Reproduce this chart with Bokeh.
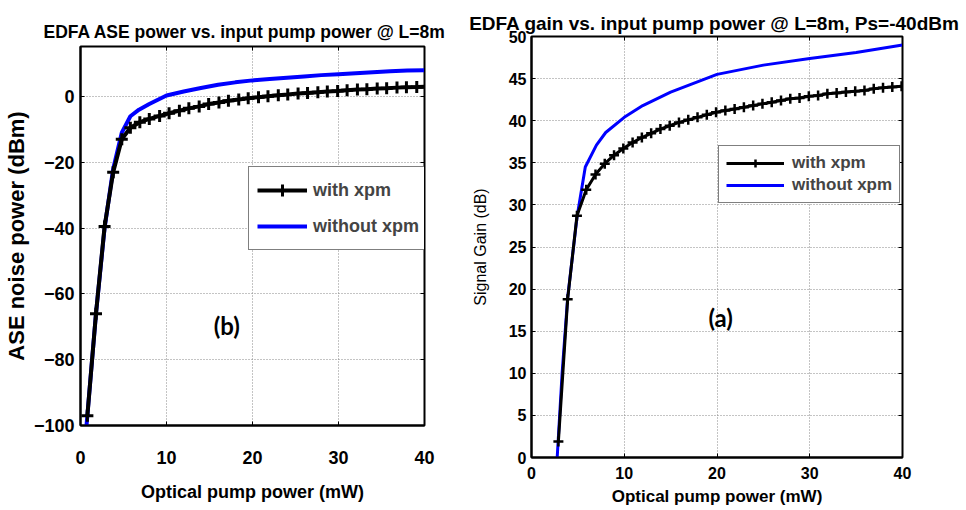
from bokeh.plotting import figure
from bokeh.layouts import row, column
from bokeh.models import (Legend, LegendItem, LinearAxis, Label, FixedTicker,
                          CustomJSTickFormatter)
from bokeh.embed import file_html
from bokeh.resources import INLINE

# ---------------- data: (b) ASE power ----------------
ase_x_xpm = [0.8, 1.8, 2.8, 3.8, 4.8, 5.8, 6.9, 8.0, 9.2, 10.3, 11.5, 12.6, 13.8,
             14.9, 16.1, 17.2, 18.4, 19.5, 20.7, 21.8, 23.0, 24.1, 25.3, 26.4,
             27.6, 28.7, 29.9, 31.0, 32.2, 33.3, 34.5, 35.6, 36.8, 37.9, 39.1, 40.2]
ase_y_xpm = [-97, -66, -39.5, -23, -13, -9.5, -7.8, -6.8, -5.9, -5.1, -4.3, -3.6, -3.0,
             -2.3, -1.8, -1.3, -0.9, -0.5, -0.2, 0.1, 0.4, 0.6, 0.9, 1.1,
             1.3, 1.5, 1.7, 1.9, 2.1, 2.2, 2.4, 2.5, 2.7, 2.8, 2.9, 3.0]
ase_x_noxpm = [0.7, 1.8, 2.8, 3.8, 4.8, 5.8, 6.8, 8, 10, 12, 14, 16, 18, 20, 22, 24,
               26, 28, 30, 32, 34, 36, 38, 40]
ase_y_noxpm = [-100, -66, -40, -22, -11, -6, -4, -2.3, 0.3, 1.5, 2.6, 3.6, 4.3, 4.9,
               5.3, 5.7, 6.1, 6.5, 6.8, 7.1, 7.4, 7.7, 7.9, 8.0]

# ---------------- data: (a) signal gain ----------------
gain_x_xpm = [2.9, 3.9, 4.9, 5.9, 6.9, 7.9, 8.9, 9.9, 10.9, 11.9, 12.9, 13.9, 14.9,
              15.9, 16.9, 17.9, 18.9, 19.9, 20.9, 21.9, 22.9, 23.9, 24.9, 25.9,
              26.9, 27.9, 28.9, 29.9, 30.9, 31.9, 32.9, 33.9, 34.9, 35.9, 36.9,
              37.9, 38.9, 39.9]
gain_y_xpm = [1.9, 18.8, 28.7, 31.8, 33.6, 34.9, 35.9, 36.7, 37.4, 38.0, 38.5, 39.0, 39.4,
              39.8, 40.1, 40.4, 40.7, 41.0, 41.2, 41.4, 41.6, 41.8, 42.0, 42.2,
              42.4, 42.6, 42.7, 42.9, 43.0, 43.2, 43.3, 43.4, 43.5, 43.6, 43.8,
              43.9, 44.0, 44.1]
gain_x_noxpm = [2.77, 3.3, 3.9, 4.9, 5.8, 7, 8, 10, 12, 15, 20, 25, 30, 35, 40]
gain_y_noxpm = [0, 10, 19, 28.5, 34.5, 37.1, 38.6, 40.4, 41.8, 43.4, 45.5, 46.6, 47.4,
                48.1, 49.0]

x_ticks = [0, 10, 20, 30, 40]
ase_ticks = [-100, -80, -60, -40, -20, 0]
gain_ticks = [0, 5, 10, 15, 20, 25, 30, 35, 40, 45, 50]

SANS = "Liberation Sans"
BLUE = "#0000ff"


def style(p, xt, yt, tick_size, xstand, ystand):
    p.outline_line_color = "black"
    p.outline_line_width = 2
    p.background_fill_color = "white"
    p.border_fill_color = "white"
    xa = p.xaxis[0]
    ya = p.yaxis[0]
    xa.ticker = FixedTicker(ticks=xt)
    ya.ticker = FixedTicker(ticks=yt)
    xa.major_label_standoff = xstand
    ya.major_label_standoff = ystand
    for ax in (xa, ya):
        ax.major_tick_in = 4
        ax.major_tick_out = 0
        ax.minor_tick_line_color = None
        ax.axis_line_color = "black"
        ax.axis_line_width = 2
        ax.major_label_text_font = SANS
        ax.major_label_text_font_style = "bold"
        ax.major_label_text_font_size = tick_size
        ax.major_label_text_color = "black"
        ax.axis_label_text_color = "black"
        ax.axis_label_text_font = SANS
    p.grid.grid_line_color = "#888888"
    p.grid.grid_line_dash = "1 2"
    p.grid.grid_line_width = 1
    # MATLAB-like boxed ticks on top and right (no labels)
    for loc, t in (("above", xt), ("right", yt)):
        ax = LinearAxis(ticker=FixedTicker(ticks=t),
                        formatter=CustomJSTickFormatter(code="return ''"),
                        major_tick_in=4, major_tick_out=0,
                        minor_tick_line_color=None, axis_line_color="black",
                        major_label_text_font_size="1px", major_label_standoff=0)
        p.add_layout(ax, loc)
    return xa, ya


# ---------------- left figure (b) ----------------
p1 = figure(width=446, height=508, x_range=(0, 40), y_range=(-100, 15.2),
            output_backend="svg", toolbar_location=None,
            min_border_left=78, min_border_right=22, min_border_top=46,
            min_border_bottom=83)
p1.title.text = "EDFA  ASE power vs. input pump power @ L=8m"
p1.title.text_font = SANS
p1.title.text_font_style = "bold"
p1.title.text_font_size = "17.5px"
p1.title.align = "left"
p1.title.offset = -37
p1.title.standoff = 8
p1.title.vertical_align = "middle"
p1.title.text_color = "black"
xa1, ya1 = style(p1, x_ticks, ase_ticks, "18px", 25, 6)
xa1.axis_label = "Optical pump power (mW)"
xa1.axis_label_text_font_size = "18px"
xa1.axis_label_text_font_style = "bold"
xa1.axis_label_standoff = 15
ya1.axis_label = "ASE noise power (dBm)"
ya1.axis_label_text_font_size = "22px"
ya1.axis_label_text_font_style = "bold"
ya1.axis_label_standoff = 2

b_blue = p1.line(ase_x_noxpm, ase_y_noxpm, line_color=BLUE, line_width=4)
b_line = p1.line(ase_x_xpm, ase_y_xpm, line_color="black", line_width=4)
b_mark = p1.scatter(ase_x_xpm, ase_y_xpm, marker="cross", size=12,
                    line_color="black", line_width=3)
leg1 = Legend(items=[LegendItem(label="with xpm", renderers=[b_line, b_mark]),
                     LegendItem(label="without xpm", renderers=[b_blue])],
              location=(168, 175), glyph_width=50, glyph_height=30,
              label_text_font=SANS, label_text_font_style="bold",
              label_text_font_size="18px", label_standoff=6,
              border_line_color="black", border_line_width=1.5,
              padding=8, spacing=6, margin=0, background_fill_alpha=1)
p1.add_layout(leg1)
p1.add_layout(Label(x=17, y=-69.6, text="(b)", text_font="Lato",
                    text_font_style="bold", text_font_size="24px",
                    text_align="center", text_baseline="middle", text_color="black"))

# ---------------- right figure (a) ----------------
p2 = figure(width=520, height=508, x_range=(0, 40), y_range=(0, 50),
            output_backend="svg", toolbar_location=None,
            min_border_left=85, min_border_right=64, min_border_top=36,
            min_border_bottom=50)
p2.title.text = "EDFA  gain vs. input pump power @ L=8m, Ps=-40dBm"
p2.title.text_font = SANS
p2.title.text_font_style = "bold"
p2.title.text_font_size = "19px"
p2.title.align = "center"
p2.title.offset = -6
p2.title.standoff = 4
p2.title.vertical_align = "middle"
p2.title.text_color = "black"
xa2, ya2 = style(p2, x_ticks, gain_ticks, "16px", 9, 5)
xa2.axis_label = "Optical pump power (mW)"
xa2.axis_label_text_font_size = "17px"
xa2.axis_label_text_font_style = "bold"
xa2.axis_label_standoff = 5
ya2.axis_label = "Signal Gain (dB)"
ya2.axis_label_text_font_size = "16px"
ya2.axis_label_text_font_style = "normal"
ya2.axis_label_standoff = 17

a_blue = p2.line(gain_x_noxpm, gain_y_noxpm, line_color=BLUE, line_width=3)
a_line = p2.line(gain_x_xpm, gain_y_xpm, line_color="black", line_width=3)
a_mark = p2.scatter(gain_x_xpm, gain_y_xpm, marker="cross", size=10,
                    line_color="black", line_width=2.5)
leg2 = Legend(items=[LegendItem(label="with xpm", renderers=[a_line, a_mark]),
                     LegendItem(label="without xpm", renderers=[a_blue])],
              location=(187, 254), glyph_width=58, glyph_height=20,
              label_text_font=SANS, label_text_font_style="bold",
              label_text_font_size="17px", label_standoff=8,
              border_line_color="black", border_line_width=1.5,
              padding=7, spacing=2, margin=0, background_fill_alpha=1)
p2.add_layout(leg2)
p2.add_layout(Label(x=20.4, y=16.6, text="(a)", text_font="Lato",
                    text_font_style="bold", text_font_size="24px",
                    text_align="center", text_baseline="middle", text_color="black"))

layout = row(column(p1), column(p2))
open("out.html", "w").write(file_html(layout, INLINE))
